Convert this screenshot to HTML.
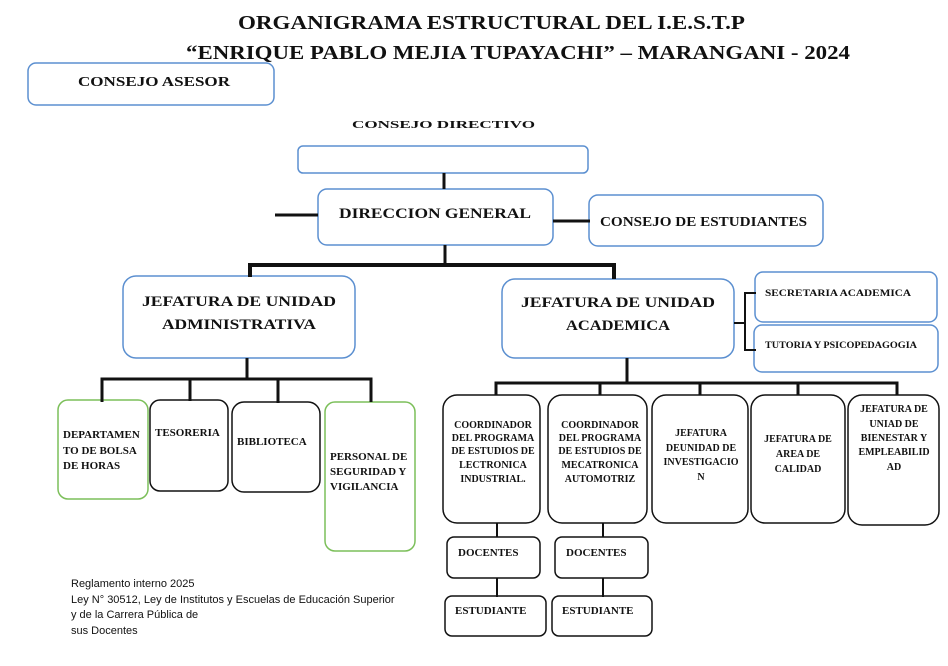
<!DOCTYPE html>
<html><head><meta charset="utf-8"><style>
html,body{margin:0;padding:0;background:#fff;}
svg{display:block;}
text{font-family:"Liberation Serif",serif;font-weight:bold;fill:#111;}
.s{font-family:"Liberation Sans",sans-serif;font-weight:normal;font-size:11px;}
</style></head><body>
<svg width="948" height="666" viewBox="0 0 948 666" xmlns="http://www.w3.org/2000/svg">
<g fill="none" stroke="#5b8fd0" stroke-width="1.5">
<rect x="28" y="63" width="246" height="42" rx="8"/>
<rect x="298" y="146" width="290" height="27" rx="5"/>
<rect x="318" y="189" width="235" height="56" rx="9"/>
<rect x="589" y="195" width="234" height="51" rx="9"/>
<rect x="123" y="276" width="232" height="82" rx="13"/>
<rect x="502" y="279" width="232" height="79" rx="13"/>
<rect x="755" y="272" width="182" height="50" rx="8"/>
<rect x="754" y="325" width="184" height="47" rx="8"/>
</g>
<g fill="none" stroke="#7cbf5a" stroke-width="1.5">
<rect x="58" y="400" width="90" height="99" rx="10"/>
<rect x="325" y="402" width="90" height="149" rx="10"/>
</g>
<g fill="none" stroke="#111" stroke-width="1.5">
<rect x="150" y="400" width="78" height="91" rx="10"/>
<rect x="232" y="402" width="88" height="90" rx="12"/>
<rect x="443" y="395" width="97" height="128" rx="14"/>
<rect x="548" y="395" width="99" height="128" rx="14"/>
<rect x="652" y="395" width="96" height="128" rx="14"/>
<rect x="751" y="395" width="94" height="128" rx="14"/>
<rect x="848" y="395" width="91" height="130" rx="14"/>
<rect x="447" y="537" width="93" height="41" rx="7"/>
<rect x="555" y="537" width="93" height="41" rx="7"/>
<rect x="445" y="596" width="101" height="40" rx="7"/>
<rect x="552" y="596" width="100" height="40" rx="7"/>
</g>
<g fill="none" stroke="#111" stroke-width="3">
<line x1="444" y1="173" x2="444" y2="189"/>
<line x1="275" y1="215" x2="318" y2="215"/>
<line x1="553" y1="221" x2="590" y2="221"/>
<line x1="445" y1="245" x2="445" y2="265"/>
<polyline points="250,277 250,265 614,265 614,279" stroke-width="4"/>
<line x1="247" y1="358" x2="247" y2="379"/>
<polyline points="102,402 102,379 371,379 371,402"/>
<line x1="190" y1="379" x2="190" y2="401"/>
<line x1="278" y1="379" x2="278" y2="403"/>
<line x1="627" y1="358" x2="627" y2="383"/>
<polyline points="496,395 496,383 897,383 897,395"/>
<line x1="600" y1="383" x2="600" y2="395"/>
<line x1="700" y1="383" x2="700" y2="395"/>
<line x1="798" y1="383" x2="798" y2="395"/>
<line x1="734" y1="323" x2="745" y2="323" stroke-width="2"/>
<polyline points="756,293 745,293 745,350 756,350" stroke-width="2"/>
<line x1="497" y1="523" x2="497" y2="537" stroke-width="2"/>
<line x1="497" y1="578" x2="497" y2="597" stroke-width="2"/>
<line x1="603" y1="523" x2="603" y2="537" stroke-width="2"/>
<line x1="603" y1="578" x2="603" y2="597" stroke-width="2"/>
</g>
<text x="238" y="29" font-size="20" textLength="507" lengthAdjust="spacingAndGlyphs">ORGANIGRAMA ESTRUCTURAL DEL I.E.S.T.P</text>
<text x="186" y="59" font-size="20" textLength="664" lengthAdjust="spacingAndGlyphs">“ENRIQUE PABLO MEJIA TUPAYACHI” – MARANGANI - 2024</text>
<text x="78" y="86" font-size="14" textLength="152" lengthAdjust="spacingAndGlyphs">CONSEJO ASESOR</text>
<text x="352" y="128" font-size="10" textLength="183" lengthAdjust="spacingAndGlyphs">CONSEJO DIRECTIVO</text>
<text x="339" y="218" font-size="15" textLength="192" lengthAdjust="spacingAndGlyphs">DIRECCION GENERAL</text>
<text x="600" y="226" font-size="14" textLength="207" lengthAdjust="spacingAndGlyphs">CONSEJO DE ESTUDIANTES</text>
<text x="142" y="306" font-size="15" textLength="194" lengthAdjust="spacingAndGlyphs">JEFATURA DE UNIDAD</text>
<text x="162" y="329" font-size="15" textLength="154" lengthAdjust="spacingAndGlyphs">ADMINISTRATIVA</text>
<text x="521" y="307" font-size="15" textLength="194" lengthAdjust="spacingAndGlyphs">JEFATURA DE UNIDAD</text>
<text x="566" y="330" font-size="15" textLength="104" lengthAdjust="spacingAndGlyphs">ACADEMICA</text>
<text x="765" y="296" font-size="9.5" textLength="146" lengthAdjust="spacingAndGlyphs">SECRETARIA ACADEMICA</text>
<text x="765" y="348" font-size="9.5" textLength="152" lengthAdjust="spacingAndGlyphs">TUTORIA Y PSICOPEDAGOGIA</text>
<g font-size="11">
<text x="63" y="438">DEPARTAMEN</text>
<text x="63" y="454">TO DE BOLSA</text>
<text x="63" y="469">DE HORAS</text>
<text x="155" y="436">TESORERIA</text>
<text x="237" y="445">BIBLIOTECA</text>
<text x="330" y="460">PERSONAL DE</text>
<text x="330" y="475">SEGURIDAD Y</text>
<text x="330" y="490">VIGILANCIA</text>
</g>
<g font-size="10" text-anchor="middle">
<text x="493" y="428">COORDINADOR</text>
<text x="493" y="441">DEL PROGRAMA</text>
<text x="493" y="454">DE ESTUDIOS DE</text>
<text x="493" y="468">LECTRONICA</text>
<text x="493" y="482">INDUSTRIAL.</text>
<text x="600" y="428">COORDINADOR</text>
<text x="600" y="441">DEL PROGRAMA</text>
<text x="600" y="454">DE ESTUDIOS DE</text>
<text x="600" y="468">MECATRONICA</text>
<text x="600" y="482">AUTOMOTRIZ</text>
<text x="701" y="436">JEFATURA</text>
<text x="701" y="451">DEUNIDAD DE</text>
<text x="701" y="465">INVESTIGACIO</text>
<text x="701" y="480">N</text>
<text x="798" y="442">JEFATURA DE</text>
<text x="798" y="457">AREA DE</text>
<text x="798" y="472">CALIDAD</text>
<text x="894" y="412">JEFATURA DE</text>
<text x="894" y="427">UNIAD DE</text>
<text x="894" y="441">BIENESTAR Y</text>
<text x="894" y="455">EMPLEABILID</text>
<text x="894" y="470">AD</text>
</g>
<g font-size="11">
<text x="458" y="556">DOCENTES</text>
<text x="566" y="556">DOCENTES</text>
<text x="455" y="614">ESTUDIANTE</text>
<text x="562" y="614">ESTUDIANTE</text>
</g>
<text class="s" x="71" y="587">Reglamento interno 2025</text>
<text class="s" x="71" y="603">Ley N° 30512, Ley de Institutos y Escuelas de Educación Superior</text>
<text class="s" x="71" y="618">y de la Carrera Pública de</text>
<text class="s" x="71" y="634">sus Docentes</text>
</svg>
</body></html>
